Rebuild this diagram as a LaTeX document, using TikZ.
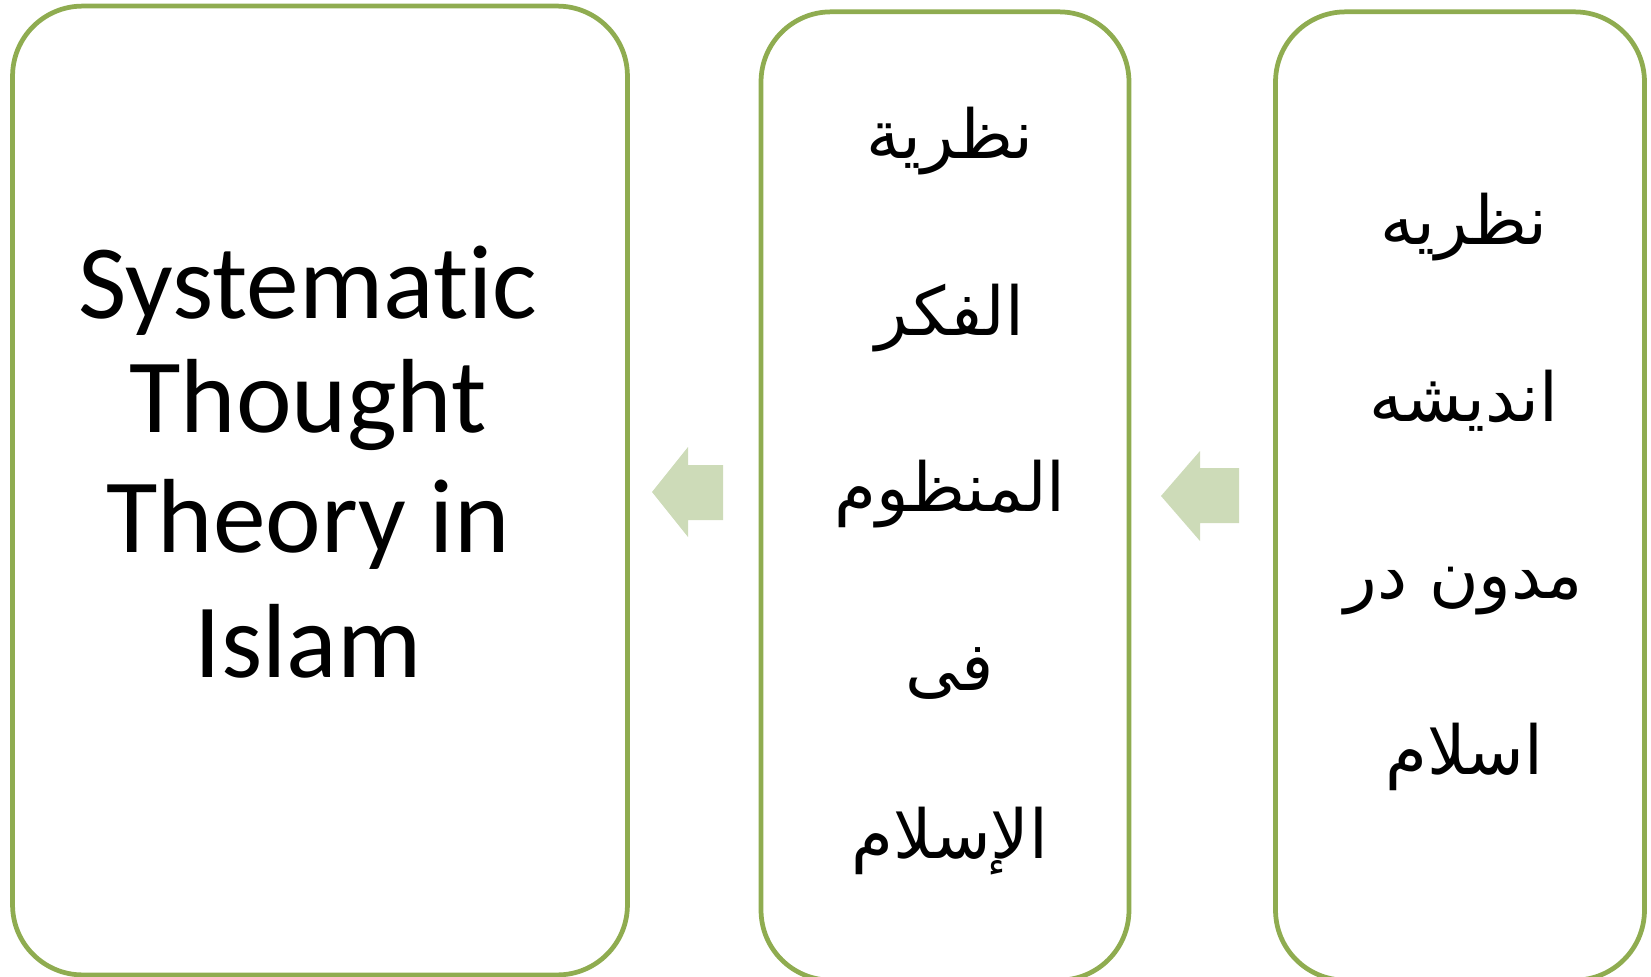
\documentclass[tikz,border=0pt]{standalone}
\usepackage{fontspec}
\setmainfont{Carlito}[Ligatures=NoCommon]
\newfontfamily\arabicfont[Script=Arabic]{DejaVu Sans}
\TeXXeTstate=1

\definecolor{panelgreen}{RGB}{143,172,80}
\definecolor{arrowgreen}{RGB}{205,219,184}

\begin{document}
\begin{tikzpicture}[x=0.02cm, y=-0.02cm, line join=round,
    panel/.style={draw=panelgreen, line width=0.095cm, rounded corners=1.4cm, inner sep=0pt},
    entext/.style={anchor=base, font=\fontsize{60}{68}\selectfont},
    artext/.style={anchor=base, font=\fontsize{38.5}{46}\arabicfont}]
      \useasboundingbox (0,0) rectangle (1651,977);

      % boxes
      \node[panel, minimum width=12.3cm, minimum height=19.38cm] (english) at (320,490.5) {};
      \node[panel, minimum width=7.36cm, minimum height=19.37cm] (arabic) at (945,496) {};
      \node[panel, minimum width=7.38cm, minimum height=19.37cm] (persian) at (1460,496) {};

      % block arrows
      \coordinate (tipA) at (652,492);
      \coordinate (tipB) at (1161,496);
      \fill[arrowgreen] (tipA) -- ++(36,-45) -- ++(0,18) -- ++(35,0) -- ++(0,55)
        -- ++(-35,0) -- ++(0,17) -- cycle;
      \fill[arrowgreen] (tipB) -- ++(39,-45) -- ++(0,17) -- ++(39,0) -- ++(0,55)
        -- ++(-39,0) -- ++(0,18) -- cycle;

      % english text
      \node[entext] (en1) at (308,318) {Systematic};
      \node[entext] (en2) at (308,432) {Thought};
      \node[entext] (en3) at (308,552) {Theory in};
      \node[entext] (en4) at (308,677) {Islam};

      % arabic text
      \node[artext] (ar1) at (950,158) {\beginR نظرية\endR};
      \node[artext] (ar2) at (950,335) {\beginR الفكر\endR};
      \node[artext] (ar3) at (950,511) {\beginR المنظوم\endR};
      \node[artext] (ar4) at (950,690) {\beginR فى\endR};
      \node[artext] (ar5) at (950,858) {\beginR الإسلام\endR};

      % persian text
      \node[artext] (fa1) at (1464,244) {\beginR نظريه\endR};
      \node[artext] (fa2) at (1464,421) {\beginR انديشه\endR};
      \node[artext] (fa3) at (1464,598) {\beginR مدون در\endR};
      \node[artext] (fa4) at (1464,774) {\beginR اسلام\endR};
    \end{tikzpicture}
\end{document}
